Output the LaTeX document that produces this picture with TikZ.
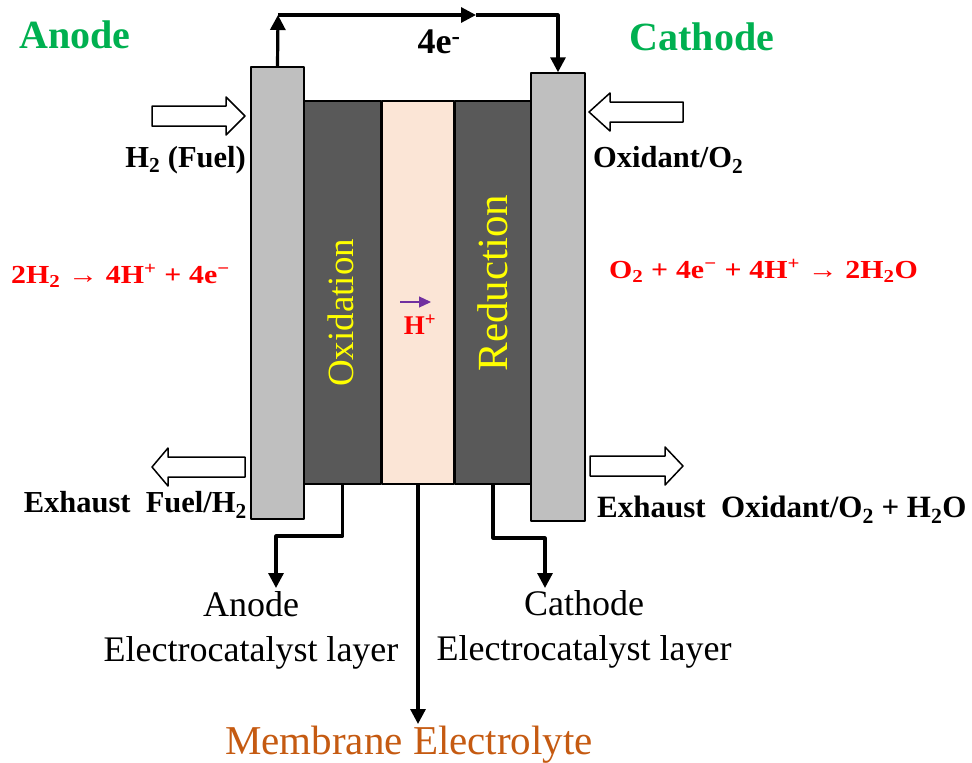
\documentclass[tikz,border=0pt]{standalone}
\usepackage{fontspec}
\setmainfont{Liberation Serif}
\newfontfamily\rxnfont[FakeStretch=1.15]{Liberation Serif}
\usetikzlibrary{arrows.meta,positioning}
\definecolor{titlegreen}{HTML}{00B050}
\definecolor{rxnred}{HTML}{FF0000}
\definecolor{plategray}{HTML}{BFBFBF}
\definecolor{layergray}{HTML}{595959}
\definecolor{memfill}{HTML}{FBE5D6}
\definecolor{memorange}{HTML}{C55A11}
\definecolor{ionpurple}{HTML}{7030A0}
\definecolor{layeryellow}{HTML}{FFFF00}
\newcommand{\fsz}[1]{\fontsize{#1}{1.2\dimexpr#1pt\relax}\selectfont}
\newcommand{\rop}[1]{\hspace{0.3em}#1\hspace{0.3em}}
\begin{document}
\begin{tikzpicture}[x=1pt,y=-1pt,line join=round,>={Triangle[length=15pt,width=15pt]},
    plate/.style={draw,line width=1.5pt,fill=plategray,inner sep=0pt},
    layer/.style={draw,line width=1.5pt,fill=layergray,inner sep=0pt},
    hollow/.style={draw,line width=1.5pt,fill=white},
    wire/.style={line width=3.2pt},
    title/.style={text=titlegreen,font=\bfseries\fsz{40},inner sep=0pt},
    lbl/.style={font=\bfseries\fsz{30.5},inner sep=0pt},
    rxn/.style={text=rxnred,font=\rxnfont\bfseries\fsz{26},inner sep=0pt},
    vert/.style={text=layeryellow,rotate=90,inner sep=0pt},
    cat/.style={align=center,font=\fontsize{36}{45}\selectfont,inner sep=0pt}]
\useasboundingbox (0,0) rectangle (972,763);
% cell stack
\node[plate,minimum width=53pt,minimum height=452pt] (anplate) at (277.5,293) {};
\node[layer,minimum width=77pt,minimum height=383pt] (anlayer) at (342.5,292.5) {};
\node[draw,line width=1.5pt,fill=memfill,minimum width=72pt,minimum height=383pt] (mem) at (418,292.5) {};
\node[layer,minimum width=76pt,minimum height=383pt] (calayer) at (493,292.5) {};
\node[plate,minimum width=54pt,minimum height=448pt] (caplate) at (558,297) {};
\node[vert,font=\fsz{37}] (oxtxt) at (341,313) {Oxidation};
\node[vert,font=\fsz{43}] (redtxt) at (493,283) {Reduction};
\node[rxn,font=\bfseries\fsz{27}] (hplus) at (420,325) {H\textsuperscript{+}};
\coordinate (ionA) at (400,302);
\coordinate (ionB) at (431,302);
\draw[->,ionpurple,line width=1.2pt,>={Triangle[length=12pt,width=11pt]}] (ionA) -- (ionB);
% gas in / out
\foreach \e/\b/\t/\y in {152/226/245/116,683/610/589/112,245/168/152/467,590/665/683/466}
  \draw[hollow] (\e,\y-10)--(\b,\y-10)--(\b,\y-19)--(\t,\y)--(\b,\y+19)--(\b,\y+10)--(\e,\y+10)--cycle;
% labels
\node[title] (anodetitle) at (75,35) {Anode};
\node[title] (cathodetitle) at (702,37) {Cathode};
\node[lbl,anchor=east] (fuel) at (246,160) {H\textsubscript{2} (Fuel)};
\node[lbl,anchor=west] (oxid) at (593,160) {Oxidant/O\textsubscript{2}};
\node[lbl,anchor=east] (exfuel) at (247,505) {Exhaust\ \ Fuel/H\textsubscript{2}};
\node[lbl,font=\bfseries\fsz{31},anchor=west] (exoxid) at (597,510) {Exhaust\ \ Oxidant/O\textsubscript{2}\ +\ H\textsubscript{2}O};
\node[rxn,anchor=west] (anrxn) at (11,276) {2H\textsubscript{2}\rop{→}4H\textsuperscript{+}\rop{+}4e\textsuperscript{−}};
\node[rxn,anchor=west] (carxn) at (609,271) {O\textsubscript{2}\rop{+}4e\textsuperscript{−}\rop{+}4H\textsuperscript{+}\rop{→}2H\textsubscript{2}O};
% external circuit
\coordinate (wireL) at (278,15);
\coordinate (wireM) at (476,15);
\coordinate (wireR) at (558,15);
\draw[wire,->] (anplate.north) -- (wireL);
\draw[wire,->] (wireL) -- (wireM);
\draw[wire,->] (wireM) -- (wireR) -- (caplate.north);
\node[lbl,font=\bfseries\fsz{36}] (elec) at (439,42) {4e\textsuperscript{-}};
% bottom callouts
\node[cat] (ancat) at (251,630) {Anode\\Electrocatalyst layer};
\node[cat] (cacat) at (584,629) {Cathode\\Electrocatalyst layer};
\node[text=memorange,font=\fsz{41},inner sep=0pt] (memlbl) at (409,745) {Membrane Electrolyte};
\coordinate (anbend) at (276,536);
\coordinate (anend) at (276,588);
\coordinate (cabend) at (545,538);
\coordinate (caend) at (545,588);
\coordinate (memend) at (418,724);
\draw[wire,->] (anlayer.south) |- (anbend) -- (anend);
\draw[wire,->] (calayer.south) |- (cabend) -- (caend);
\draw[wire,->] (mem.south) -- (memend);
\end{tikzpicture}
\end{document}
